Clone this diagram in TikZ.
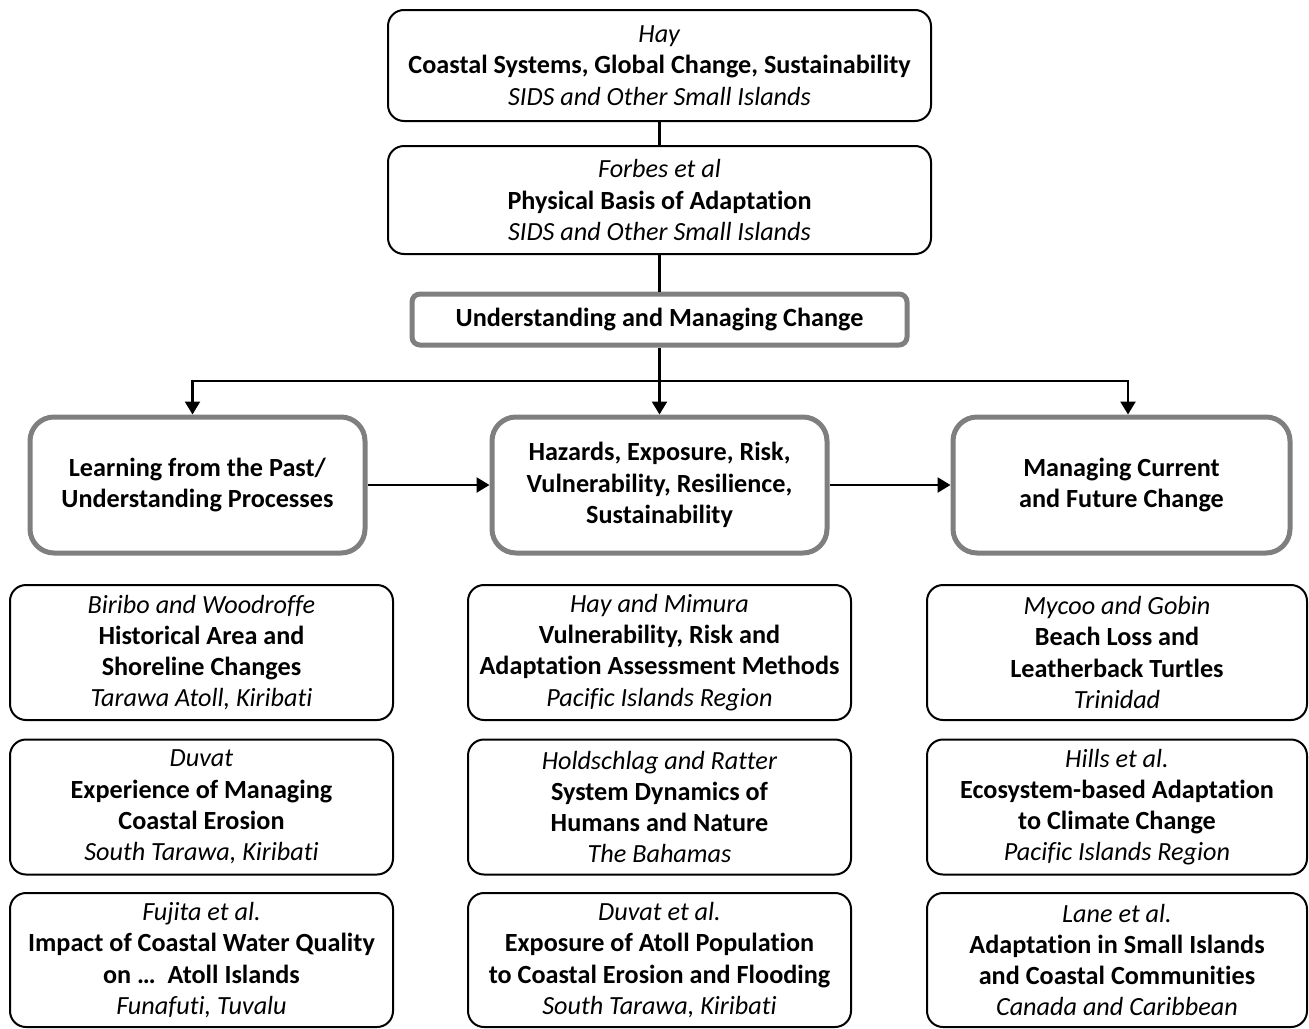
\documentclass[tikz,border=0pt]{standalone}
\usepackage{fontspec}
\setmainfont{Carlito}[Ligatures=NoCommon]
\usetikzlibrary{arrows.meta}
\definecolor{boxgray}{HTML}{7F7F7F}
\tikzset{
  txt/.style={font=\fontsize{26.2}{31.2}\selectfont, align=center, inner sep=0pt},
  refbox/.style={txt, draw=black, line width=2pt, rounded corners=16pt, fill=white},
  themebox/.style={txt, draw=boxgray, line width=5pt, rounded corners=24pt, fill=white},
  umcbox/.style={txt, draw=boxgray, line width=5pt, rounded corners=8pt, fill=white},
  conn/.style={line width=2.5pt, black},
  arr/.style={conn, -{Triangle[width=15pt,length=13pt]}},
}
\newcommand{\rb}[3]{\textit{#1}\\\textbf{#2}\\\textit{#3}}
\begin{document}
\begin{tikzpicture}[x=1pt,y=-1pt]
\useasboundingbox (0,0) rectangle (1309,1028);
% top chain
\node[refbox, minimum width=543pt, minimum height=111pt] (hay) at (659.5,65.5)
  {\rb{Hay}{Coastal Systems, Global Change, Sustainability}{SIDS and Other Small Islands}};
\node[refbox, minimum width=543pt, minimum height=108pt] (forbes) at (659.5,200)
  {\rb{Forbes et al}{Physical Basis of Adaptation}{SIDS and Other Small Islands}};
\node[umcbox, minimum width=495pt, minimum height=51pt] (umc) at (659.5,319.5)
  {\textbf{Understanding and Managing Change}};
% theme boxes
\node[themebox, minimum width=335pt, minimum height=136pt] (learn) at (197.5,485)
  {\textbf{Learning from the Past/}\\\textbf{Understanding Processes}};
\node[themebox, minimum width=335pt, minimum height=136pt] (haz) at (659.5,485)
  {\textbf{Hazards, Exposure, Risk,}\\\textbf{Vulnerability, Resilience,}\\\textbf{Sustainability}};
\node[themebox, minimum width=337pt, minimum height=136pt] (mng) at (1121.5,485)
  {\textbf{Managing Current}\\\textbf{and Future Change}};
% left column
\node[refbox, minimum width=383pt, minimum height=135pt] (l1) at (201.5,652.5)
  {\textit{Biribo and Woodroffe}\\\textbf{Historical Area and}\\\textbf{Shoreline Changes}\\\textit{Tarawa Atoll, Kiribati}};
\node[refbox, minimum width=383pt, minimum height=135pt] (l2) at (201.5,807)
  {\textit{Duvat}\\\textbf{Experience of Managing}\\\textbf{Coastal Erosion}\\\textit{South Tarawa, Kiribati}};
\node[refbox, minimum width=383pt, minimum height=134pt] (l3) at (201.5,960)
  {\textit{Fujita et al.}\\\textbf{Impact of Coastal Water Quality}\\\textbf{on \dots\ \ Atoll Islands}\\\textit{Funafuti, Tuvalu}};
% center column
\node[refbox, minimum width=383pt, minimum height=135pt] (c1) at (659.5,652.5)
  {\textit{Hay and Mimura}\\\textbf{Vulnerability, Risk and}\\\textbf{Adaptation Assessment Methods}\\\textit{Pacific Islands Region}};
\node[refbox, minimum width=383pt, minimum height=135pt] (c2) at (659.5,807)
  {\textit{Holdschlag and Ratter}\\\textbf{System Dynamics of}\\\textbf{Humans and Nature}\\\textit{The Bahamas}};
\node[refbox, minimum width=383pt, minimum height=134pt] (c3) at (659.5,960)
  {\textit{Duvat et al.}\\\textbf{Exposure of Atoll Population}\\\textbf{to Coastal Erosion and Flooding}\\\textit{South Tarawa, Kiribati}};
% right column
\node[refbox, minimum width=380pt, minimum height=135pt] (r1) at (1117,652.5)
  {\textit{Mycoo and Gobin}\\\textbf{Beach Loss and}\\\textbf{Leatherback Turtles}\\\textit{Trinidad}};
\node[refbox, minimum width=380pt, minimum height=135pt] (r2) at (1117,807)
  {\textit{Hills et al.}\\\textbf{Ecosystem-based Adaptation}\\\textbf{to Climate Change}\\\textit{Pacific Islands Region}};
\node[refbox, minimum width=380pt, minimum height=134pt] (r3) at (1117,960)
  {\textit{Lane et al.}\\\textbf{Adaptation in Small Islands}\\\textbf{and Coastal Communities}\\\textit{Canada and Caribbean}};
% connectors
\coordinate (split) at (659.5,381);
\draw[conn] (hay.south) -- (forbes.north);
\draw[conn] (forbes.south) -- (umc.north);
\draw[arr] (umc.south) -- (haz.north);
\draw[arr] (split) -| ([xshift=-5pt]learn.north);
\draw[arr] (split) -| ([xshift=6.5pt]mng.north);
\draw[arr] (learn.east) -- (haz.west);
\draw[arr] (haz.east) -- (mng.west);
\end{tikzpicture}
\end{document}
